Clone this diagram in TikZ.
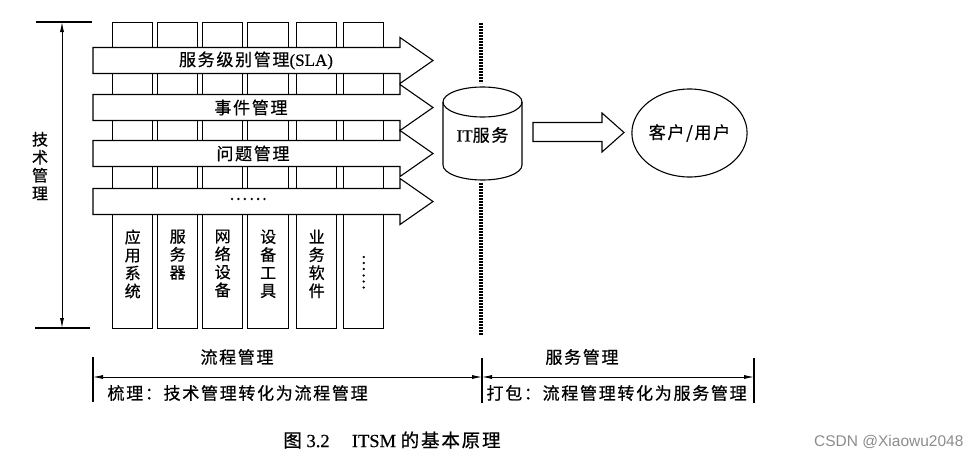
\documentclass[tikz,border=0pt]{standalone}
\usepackage{fontspec}
\setmainfont{Liberation Serif}[FakeBold=0.6]
\newfontfamily\cjk[LetterSpace=10,FakeBold=0.6]{Noto Sans CJK SC}
\newfontfamily\wmfont{Liberation Sans}
\usetikzlibrary{shapes.geometric,arrows.meta,calc}

% block arrow across the pillars, centred on y = #1
\newcommand\bandarrow[1]{%
  \draw[flowband] (93,#1-13) -- (400,#1-13) -- (400,#1-23) -- (433,#1)
    -- (400,#1+23) -- (400,#1+13) -- (93,#1+13) -- cycle;}

\begin{document}
\begin{tikzpicture}[x=1pt,y=-1pt,line width=1.1pt,
  pillar/.style={draw,fill=white,line width=1.4pt,minimum width=40pt,
    minimum height=306pt,anchor=north west,inner sep=0},
  flowband/.style={draw,fill=white,line join=miter},
  bandtext/.style={font=\fontsize{17}{19}\selectfont,inner sep=0},
  pillartext/.style={font=\cjk\fontsize{16}{18}\selectfont,align=center,
    anchor=north,inner sep=0},
  txt/.style={font=\fontsize{17}{19}\selectfont,inner sep=0},
  dimline/.style={{Latex[length=10pt,width=4pt]}-{Latex[length=10pt,width=4pt]},
    line width=0.8pt},
  divider/.style={line width=3.2pt,dash pattern=on 1.6pt off 1.4pt}]
\useasboundingbox (0,0) rectangle (978,458);

% technology management span on the left
\coordinate (tt) at (62,22);
\coordinate (tb) at (62,328);
\draw (36,22) -- (92,22);
\draw (35,328) -- (90,328);
\draw[dimline] (tt) -- (tb);
\node[pillartext,anchor=center] (tech) at (40,166) {技\\术\\管\\理};

% technology pillars
\node[pillar] (p1) at (112,22) {};
\node[pillar] (p2) at (157,22) {};
\node[pillar] (p3) at (202,22) {};
\node[pillar,minimum width=41pt] (p4) at (247,22) {};
\node[pillar] (p5) at (296,22) {};
\node[pillar] (p6) at (343,22) {};

\node[pillartext] (l1) at ($(p1.north)+(0,207)$) {应\\用\\系\\统};
\node[pillartext] (l2) at ($(p2.north)+(0,207)$) {服\\务\\器};
\node[pillartext] (l3) at ($(p3.north)+(0,207)$) {网\\络\\设\\备};
\node[pillartext] (l4) at ($(p4.north)+(0,207)$) {设\\备\\工\\具};
\node[pillartext] (l5) at ($(p5.north)+(0,207)$) {业\\务\\软\\件};
\node[bandtext,font=\cjk\fontsize{16}{18}\selectfont,rotate=-90] (l6) at ($(p6.north)+(0,250)$) {……};

% process bands
\bandarrow{60.5}
\bandarrow{107.5}
\bandarrow{153.5}
\bandarrow{201.5}
\node[bandtext] (sla) at (256,60.5) {{\cjk 服务级别管理}(SLA)};
\node[bandtext] (inc) at (251,107.5) {\cjk 事件管理};
\node[bandtext] (prb) at (253,153.5) {\cjk 问题管理};
\node[bandtext] (etc) at (248,199) {\cjk ……};

% boundary between process and service
\draw[divider] (481,23) -- (481,83);
\draw[divider] (481,183) -- (481,335);

% IT service store
\draw[fill=white] (443,102) -- (443,165)
  arc[start angle=180,end angle=360,x radius=39.5pt,y radius=15pt] -- (522,102);
\draw (482.5,102) ellipse[x radius=39.5pt,y radius=15pt];
\node[txt,minimum width=79pt,minimum height=93pt] (itsvc) at (482.5,135) {IT{\cjk 服务}};

% customer
\node[ellipse,draw,minimum width=103pt,minimum height=88pt,inner sep=0,
  font=\cjk\fontsize{17}{19}\selectfont] (client) at (689.5,133) {客户/用户};

% delivery arrow
\draw[flowband] (533,122.5) -- (602,122.5) -- (602,113) -- (624,132.5)
  -- (602,152) -- (602,141.5) -- (533,141.5) -- cycle;

% spans along the bottom
\coordinate (bl) at (93,377);
\coordinate (bm) at (482,377);
\coordinate (br) at (754,377);
\draw (93,357) -- (93,402);
\draw (482,358) -- (482,403);
\draw (754,358) -- (754,403);
\draw[dimline] (bl) -- (bm);
\draw[dimline] (bm) -- (br);
\node[txt,font=\cjk\fontsize{17}{19}\selectfont] (proc) at (237,357) {流程管理};
\node[txt,font=\cjk\fontsize{17}{19}\selectfont] (svc) at (582,357) {服务管理};
\node[txt,font=\cjk\fontsize{17}{19}\selectfont,anchor=west] (sort) at (107,393) {梳理：技术管理转化为流程管理};
\node[txt,font=\cjk\fontsize{17}{19}\selectfont,anchor=west] (pack) at (486,393) {打包：流程管理转化为服务管理};

% caption and watermark
\node[font=\fontsize{18.5}{20}\selectfont,inner sep=0] (cap) at (392,440)
  {{\cjk 图} 3.2\hspace{1.2em}ITSM {\cjk 的基本原理}};
\node[font=\wmfont\fontsize{15.5}{17}\selectfont,text=black!45,anchor=east,inner sep=0]
  (wm) at (964,442) {CSDN @Xiaowu2048};
\end{tikzpicture}
\end{document}
